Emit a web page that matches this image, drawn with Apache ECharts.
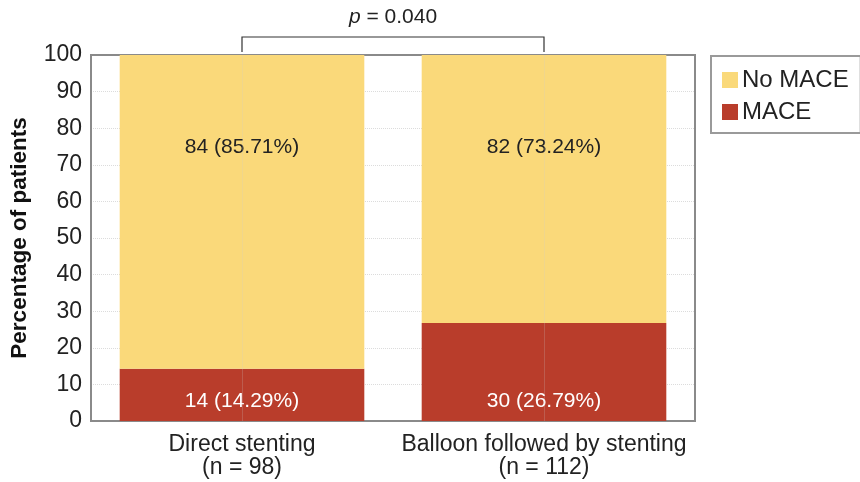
<!DOCTYPE html>
<html>
<head>
<meta charset="utf-8">
<script src="https://cdn.jsdelivr.net/npm/echarts@6/dist/echarts.min.js"></script>
<style>
  html, body { margin: 0; padding: 0; background: #fff; }
  #chart { width: 860px; height: 482px; }
</style>
</head>
<body>
<div id="chart"></div>
<script>
// Outcome by procedure group
const categories = ['Direct stenting\n(n = 98)', 'Balloon followed by stenting\n(n = 112)'];
const maceCounts = [14, 30];
const macePercent = [14.29, 26.79];
const noMaceCounts = [84, 82];
const noMacePercent = [85.71, 73.24];
const yTicks = { min: 0, max: 100, interval: 10 };
const pValueText = '0.040';

const FONT = '"Liberation Sans", Arial, Helvetica, sans-serif';
const YELLOW = '#FAD97A';
const RED = '#B93D2B';

const chart = echarts.init(document.getElementById('chart'));

const option = {
  animation: false,
  textStyle: { fontFamily: FONT },
  grid: {
    left: 91, right: 165, top: 55, bottom: 61,
    show: true, borderColor: '#8a8a8a', borderWidth: 2, backgroundColor: 'transparent'
  },
  legend: {
    data: ['No MACE', 'MACE'],
    orient: 'vertical',
    left: 711, top: 56,
    padding: [12, 12, 9, 11],
    borderColor: '#9a9a9a', borderWidth: 2,
    itemWidth: 16, itemHeight: 16, itemGap: 8,
    icon: 'rect',
    textStyle: { fontSize: 24, color: '#222', fontFamily: FONT, padding: [0, 0, 0, -1] }
  },
  xAxis: {
    type: 'category',
    data: categories,
    axisLine: { show: true, lineStyle: { color: '#8a8a8a', width: 2 } },
    axisTick: { show: false },
    axisLabel: { interval: 0, fontSize: 23, color: '#222', lineHeight: 23, margin: 12, fontFamily: FONT },
    splitLine: { show: false }
  },
  yAxis: {
    type: 'value',
    min: yTicks.min, max: yTicks.max, interval: yTicks.interval,
    name: 'Percentage of patients',
    nameLocation: 'middle',
    nameGap: 60,
    nameTextStyle: { fontSize: 22.5, fontWeight: 'bold', color: '#111', fontFamily: FONT },
    axisLine: { show: true, lineStyle: { color: '#8a8a8a', width: 2 } },
    axisTick: { show: false },
    axisLabel: { fontSize: 23, color: '#222', margin: 9, fontFamily: FONT },
    splitLine: {
      show: true, showMinLine: false, showMaxLine: false,
      lineStyle: { color: '#dcdcdc', type: 'dotted', width: 1 }
    }
  },
  series: [
    {
      name: 'MACE',
      type: 'bar',
      stack: 'total',
      barWidth: '81%',
      itemStyle: { color: RED },
      data: macePercent,
      label: {
        show: true,
        position: 'insideBottom',
        distance: 9,
        color: '#fff',
        fontSize: 21,
        fontFamily: FONT,
        formatter: p => maceCounts[p.dataIndex] + ' (' + macePercent[p.dataIndex].toFixed(2) + '%)'
      },
      markLine: {
        silent: true,
        symbol: 'none',
        label: { show: false },
        lineStyle: { color: 'rgba(205,205,205,0.22)', type: 'solid', width: 1 },
        data: categories.map(c => ({ xAxis: c }))
      },
      z: 2
    },
    {
      name: 'No MACE',
      type: 'bar',
      stack: 'total',
      barWidth: '81%',
      itemStyle: { color: YELLOW },
      data: noMacePercent,
      label: {
        show: true,
        position: 'insideTop',
        distance: 82,
        color: '#222',
        fontSize: 21,
        fontFamily: FONT,
        formatter: p => noMaceCounts[p.dataIndex] + ' (' + noMacePercent[p.dataIndex].toFixed(2) + '%)'
      },
      z: 2
    }
  ]
};

chart.setOption(option);

// Significance bracket spanning the two group centres, above the plot
function drawBracket() {
  const x1 = chart.convertToPixel({ xAxisIndex: 0 }, categories[0]);
  const x2 = chart.convertToPixel({ xAxisIndex: 0 }, categories[1]);
  const yTop = chart.convertToPixel({ yAxisIndex: 0 }, yTicks.max);
  const yBar = yTop - 18;
  chart.setOption({
    graphic: [
      {
        type: 'polyline',
        silent: true,
        shape: { points: [[x1, yTop - 3], [x1, yBar], [x2, yBar], [x2, yTop - 3]] },
        style: { stroke: '#333', lineWidth: 1.2, fill: null }
      },
      {
        type: 'text',
        silent: true,
        x: (x1 + x2) / 2,
        y: yBar - 9,
        style: {
          text: '{i|p} = ' + pValueText,
          rich: {
            i: { fontStyle: 'italic', fontSize: 21, fill: '#222', fontFamily: FONT }
          },
          fontSize: 21,
          fill: '#222',
          fontFamily: FONT,
          align: 'center',
          verticalAlign: 'bottom'
        }
      }
    ]
  });
}
drawBracket();
</script>
</body>
</html>
